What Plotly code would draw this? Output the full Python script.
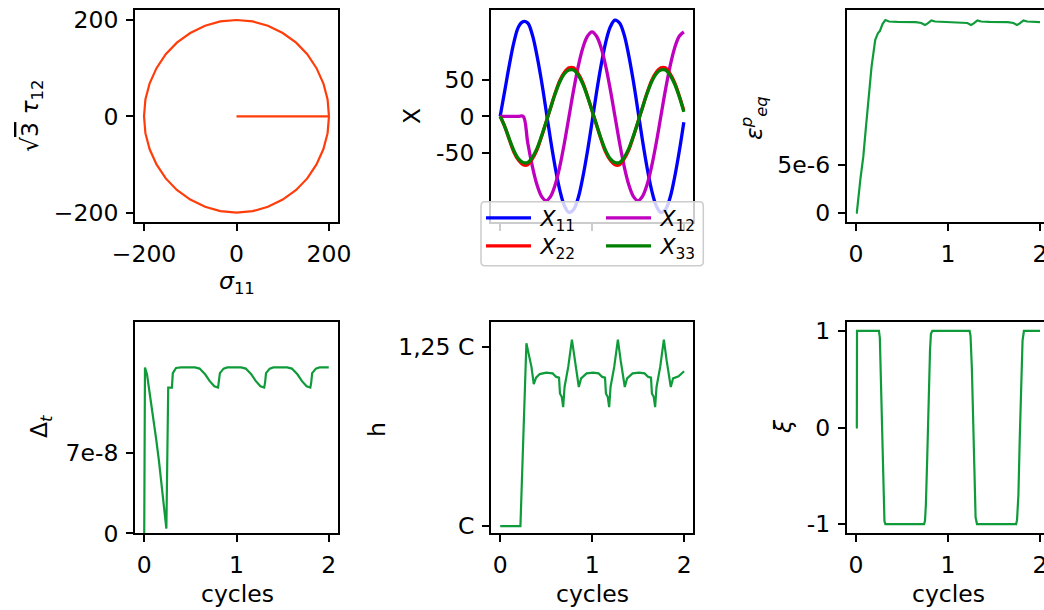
import plotly.graph_objects as go

W, H = 1044, 610

# ---------------- Panel 1: stress path ----------------
circle_sigma11 = [200, 197, 188, 173, 153, 129, 100, 68, 35, 0, -35, -68, -100, -129, -153, -173, -188, -197,
                  -200, -197, -188, -173, -153, -129, -100, -68, -35, 0, 35, 68, 100, 129, 153, 173, 188, 197, 200]
circle_tau12 = [0, 35, 68, 100, 129, 153, 173, 188, 197, 200, 197, 188, 173, 153, 129, 100, 68, 35,
                0, -35, -68, -100, -129, -153, -173, -188, -197, -200, -197, -188, -173, -153, -129, -100, -68, -35, 0]
load_sigma11 = [0, 200]
load_tau12 = [0, 0]

# ---------------- Panel 2: back stress components ----------------
t_back = [0.00, 0.05, 0.10, 0.15, 0.20, 0.25, 0.30, 0.35, 0.40, 0.45, 0.50, 0.55, 0.60, 0.65, 0.70, 0.75, 0.80,
          0.85, 0.90, 0.95, 1.00, 1.05, 1.10, 1.15, 1.20, 1.25, 1.30, 1.35, 1.40, 1.45, 1.50, 1.55, 1.60, 1.65,
          1.70, 1.75, 1.80, 1.85, 1.90, 1.95, 2.00]
X11 = [0, 35, 70, 101, 122, 129, 127, 111, 83, 48, 8, -33, -70, -101, -122, -131, -127, -111, -83, -48, -8,
       33, 70, 101, 122, 131, 127, 111, 83, 48, 8, -33, -70, -101, -122, -131, -127, -111, -83, -48, -8]
X12 = [0, 0, 0, 0, 0, 0, -36, -68, -93, -109, -115, -109, -93, -68, -36, 0, 36, 68, 93, 109, 115,
       109, 93, 68, 36, 0, -36, -68, -93, -109, -115, -109, -93, -68, -36, 0, 36, 68, 93, 109, 115]
X22 = [0, -14, -32, -49, -60, -66, -66, -58, -46, -28, -8, 12, 32, 49, 60, 66, 66, 58, 46, 28, 8,
       -12, -32, -49, -60, -66, -66, -58, -46, -28, -8, 12, 32, 49, 60, 66, 66, 58, 46, 28, 8]
X33 = [0, -14, -31, -47, -58, -63, -63, -56, -44, -27, -8, 12, 31, 47, 58, 63, 63, 56, 44, 27, 8,
       -12, -31, -47, -58, -63, -63, -56, -44, -27, -8, 12, 31, 47, 58, 63, 63, 56, 44, 27, 6]
back_names = ["\u2009<i>X</i><sub>11</sub>", "\u2009<i>X</i><sub>12</sub>",
              "\u2009<i>X</i><sub>22</sub>", "\u2009<i>X</i><sub>33</sub>"]
back_colors = ["#0000ff", "#bf00bf", "#ff0000", "#008000"]
back_legend_row = ["legend", "legend", "legend2", "legend2"]

# ---------------- Panel 3: equivalent plastic strain ----------------
t_eps = [0.00, 0.01, 0.05, 0.08, 0.11, 0.134, 0.17, 0.21, 0.24, 0.26, 0.27, 0.29, 0.32, 0.36, 0.45, 0.55,
         0.65, 0.71, 0.75, 0.78, 0.82, 0.86, 0.95, 1.05, 1.15, 1.21, 1.25, 1.28, 1.32, 1.36, 1.45, 1.55,
         1.65, 1.71, 1.75, 1.78, 1.82, 1.86, 1.95, 2.00]
eps_eq = [0.0, 0.0, 3.6e-6, 5.8e-6, 9.0e-6, 11.7e-6, 15.2e-6, 18.0e-6, 18.7e-6, 18.9e-6, 19.1e-6, 19.66e-6,
          20.05e-6, 19.9e-6, 19.86e-6, 19.86e-6, 19.83e-6, 19.75e-6, 19.55e-6, 19.7e-6, 20.02e-6, 19.9e-6,
          19.86e-6, 19.86e-6, 19.83e-6, 19.75e-6, 19.55e-6, 19.7e-6, 20.02e-6, 19.9e-6, 19.86e-6, 19.86e-6,
          19.83e-6, 19.75e-6, 19.55e-6, 19.7e-6, 20.02e-6, 19.9e-6, 19.86e-6, 19.83e-6]

# ---------------- Panel 4: time step ----------------
t_dt = [0.00, 0.008, 0.03, 0.06, 0.10, 0.13, 0.16, 0.20, 0.24, 0.26, 0.30, 0.31, 0.345, 0.40, 0.55, 0.60,
        0.66, 0.71, 0.76, 0.80, 0.81, 0.82, 0.86, 0.90, 1.05, 1.10, 1.16, 1.21, 1.26, 1.30, 1.31, 1.32, 1.36,
        1.40, 1.55, 1.60, 1.66, 1.71, 1.76, 1.80, 1.81, 1.82, 1.86, 1.90, 2.00]
delta_t = [0.0, 14.5e-8, 13.9e-8, 12.3e-8, 10.0e-8, 8.2e-8, 6.3e-8, 3.6e-8, 0.4e-8, 12.74e-8, 12.74e-8, 14.0e-8,
           14.45e-8, 14.5e-8, 14.5e-8, 14.4e-8, 13.9e-8, 13.3e-8, 12.85e-8, 12.74e-8, 13.2e-8, 14.0e-8, 14.4e-8,
           14.5e-8, 14.5e-8, 14.4e-8, 13.9e-8, 13.3e-8, 12.85e-8, 12.74e-8, 13.2e-8, 14.0e-8, 14.4e-8, 14.5e-8,
           14.5e-8, 14.4e-8, 13.9e-8, 13.3e-8, 12.85e-8, 12.74e-8, 13.2e-8, 14.0e-8, 14.4e-8, 14.5e-8, 14.5e-8]

# ---------------- Panel 5: hardening modulus h (in units of C) ----------------
t_h = [0.00, 0.22, 0.285, 0.34, 0.365, 0.39, 0.43, 0.50, 0.57, 0.61, 0.64, 0.65, 0.67, 0.685, 0.70, 0.74,
       0.78, 0.81, 0.855, 0.88, 0.94, 1.01, 1.07, 1.11, 1.14, 1.15, 1.17, 1.185, 1.20, 1.24, 1.28, 1.31, 1.355,
       1.38, 1.44, 1.51, 1.57, 1.61, 1.64, 1.65, 1.67, 1.685, 1.70, 1.74, 1.78, 1.81, 1.855, 1.88, 1.94, 2.00]
h_val = [1.0, 1.0, 1.255, 1.222, 1.198, 1.207, 1.212, 1.214, 1.213, 1.208, 1.207, 1.185, 1.18, 1.166, 1.194,
         1.222, 1.26, 1.231, 1.194, 1.206, 1.213, 1.214, 1.213, 1.208, 1.207, 1.185, 1.18, 1.166, 1.194, 1.222,
         1.26, 1.231, 1.194, 1.206, 1.213, 1.214, 1.213, 1.208, 1.207, 1.185, 1.18, 1.166, 1.194, 1.222, 1.26,
         1.231, 1.194, 1.206, 1.209, 1.216]
h_tickvals = [1.0, 1.25]
h_ticktext = ["C", "1,25 C"]

# ---------------- Panel 6: xi ----------------
t_xi = [0.00, 0.01, 0.012, 0.25, 0.26, 0.27, 0.285, 0.30, 0.31, 0.32, 0.74, 0.75, 0.76, 0.775, 0.79, 0.805,
        0.815, 0.83, 1.235, 1.245, 1.26, 1.275, 1.29, 1.30, 1.315, 1.74, 1.75, 1.765, 1.78, 1.795, 1.81, 1.825, 2.00]
xi_val = [0, 0, 1, 1, 0.93, 0.5, -0.1, -0.75, -0.97, -1, -1, -0.97, -0.8, -0.3, 0.3, 0.8, 0.97, 1,
          1, 0.95, 0.6, 0.0, -0.6, -0.93, -1, -1, -0.96, -0.7, -0.1, 0.5, 0.9, 1, 1]

cycle_ticks = [0, 1, 2]
cycle_labels = ["0", "1", "2"]

GREEN = "#0f9b3a"
FONT = "DejaVu Sans"
FS = 23.5


def px(x):
    return x / W


def py(y):
    return 1 - y / H


fig = go.Figure()

# panel 1
fig.add_trace(go.Scatter(x=load_sigma11, y=load_tau12, mode="lines", line=dict(color="#ff3d0a", width=2.2),
                         showlegend=False, xaxis="x", yaxis="y"))
fig.add_trace(go.Scatter(x=circle_sigma11, y=circle_tau12, mode="lines", line=dict(color="#ff3d0a", width=2.2),
                         showlegend=False, xaxis="x", yaxis="y"))

# panel 2
for vals, name, col, lg in zip([X11, X12, X22, X33], back_names, back_colors, back_legend_row):
    fig.add_trace(go.Scatter(x=t_back, y=vals, mode="lines", name=name, legend=lg,
                             line=dict(color=col, width=3.3, shape="spline", smoothing=1),
                             xaxis="x2", yaxis="y2"))

# panels 3-6
for xs, ys, ax in [(t_eps, eps_eq, "3"), (t_dt, delta_t, "4"), (t_h, h_val, "5"), (t_xi, xi_val, "6")]:
    fig.add_trace(go.Scatter(x=xs, y=ys, mode="lines", line=dict(color=GREEN, width=2.2),
                             showlegend=False, xaxis="x" + ax, yaxis="y" + ax))

common = dict(showline=True, linecolor="black", linewidth=1.8, ticks="outside", ticklen=7, tickwidth=1.8,
              tickcolor="black", showgrid=False, zeroline=False, tickfont=dict(family=FONT, size=FS, color="black"),
              ticklabelstandoff=3, ticklabeloverflow="allow", automargin=False)

boxes = {
    1: (135, 338, 10, 222),
    2: (491, 693, 10, 222),
    3: (846.7, 1044, 10, 221.7),
    4: (135, 338, 321.7, 533.3),
    5: (491, 693.3, 321.7, 533.3),
    6: (846.7, 1044, 321.7, 533.3),
}

xcfg = {
    1: dict(range=[-219.5, 219.5], tickvals=[-200, 0, 200], ticktext=["\u2212200", "0", "200"]),
    2: dict(range=[-0.1, 2.1], tickvals=cycle_ticks, showticklabels=False),
    3: dict(range=[-0.1, 2.043], tickvals=cycle_ticks, ticktext=cycle_labels),
    4: dict(range=[-0.1, 2.1], tickvals=cycle_ticks, ticktext=cycle_labels),
    5: dict(range=[-0.1, 2.1], tickvals=cycle_ticks, ticktext=cycle_labels),
    6: dict(range=[-0.1, 2.043], tickvals=cycle_ticks, ticktext=cycle_labels),
}
ycfg = {
    1: dict(range=[-219.5, 220.8], tickvals=[-200, 0, 200], ticktext=["\u2212200", "0", "200"]),
    2: dict(range=[-144, 144.8], tickvals=[-50, 0, 50], ticktext=["-50", "0", "50"]),
    3: dict(range=[-0.94e-6, 21.1e-6], tickvals=[0, 5e-6], ticktext=["0", "5e-6"]),
    4: dict(range=[0, 18.5e-8], tickvals=[0, 7e-8], ticktext=["0", "7e-8"]),
    5: dict(range=[0.99, 1.285], tickvals=h_tickvals, ticktext=h_ticktext),
    6: dict(range=[-1.096, 1.096], tickvals=[-1, 0, 1], ticktext=["-1", "0", "1"]),
}

layout = dict(width=W, height=H, margin=dict(l=0, r=0, t=0, b=0, autoexpand=False), paper_bgcolor="white",
              plot_bgcolor="white", font=dict(family=FONT, size=FS, color="black"))
for i in range(1, 7):
    x0, x1, y0, y1 = boxes[i]
    sx = "" if i == 1 else str(i)
    right_col = i in (3, 6)
    layout["xaxis" + sx] = dict(common, domain=[px(x0), px(x1)], anchor="y" + sx, mirror=True, **xcfg[i])
    layout["yaxis" + sx] = dict(common, domain=[py(y1), py(y0)], anchor="x" + sx,
                                mirror=(not right_col), **ycfg[i])
fig.update_layout(**layout)

leg_common = dict(xanchor="left", yanchor="middle", orientation="h", entrywidth=60,
                  bgcolor="rgba(0,0,0,0)", borderwidth=0, font=dict(family=FONT, size=22, color="black"),
                  itemwidth=45, tracegroupgap=0)
fig.update_layout(legend=dict(leg_common, x=px(481), y=py(218)),
                  legend2=dict(leg_common, x=px(481), y=py(246)))

# legend frame (semi-transparent, rounded corners)
lx0, lx1, ly0, ly1, r = 481, 703.3, 201.7, 265.7, 4
frame = (f"M {px(lx0 + r)} {py(ly0)} L {px(lx1 - r)} {py(ly0)} Q {px(lx1)} {py(ly0)} {px(lx1)} {py(ly0 + r)} "
         f"L {px(lx1)} {py(ly1 - r)} Q {px(lx1)} {py(ly1)} {px(lx1 - r)} {py(ly1)} "
         f"L {px(lx0 + r)} {py(ly1)} Q {px(lx0)} {py(ly1)} {px(lx0)} {py(ly1 - r)} "
         f"L {px(lx0)} {py(ly0 + r)} Q {px(lx0)} {py(ly0)} {px(lx0 + r)} {py(ly0)} Z")
fig.add_shape(type="path", path=frame, xref="paper", yref="paper", layer="above",
              fillcolor="rgba(255,255,255,0.8)", line=dict(color="#cccccc", width=1.5))

labels = [
    ("\u221a<span style='text-decoration:overline'>3</span> <i>\u03c4</i><sub>12</sub>", 32, 116, -90),
    ("<i>\u03c3</i><sub>11</sub>", 237, 282, 0),
    ("X", 412, 116, -90),
    ("<i>\u03b5</i><sup><i>p</i></sup><sub><i>eq</i></sub>", 754, 118, -90),
    ("\u0394<sub><i>t</i></sub>", 40, 427, -90),
    ("cycles", 237, 594, 0),
    ("h", 377, 430, -90),
    ("cycles", 592, 594, 0),
    ("<i>\u03be</i>", 783, 427, -90),
    ("cycles", 948, 594, 0),
]
for text, x, y, ang in labels:
    fig.add_annotation(text=text, x=px(x), y=py(y), xref="paper", yref="paper", showarrow=False,
                       textangle=ang, xanchor="center", yanchor="middle",
                       font=dict(family=FONT, size=FS, color="black"))

fig.write_html("out.html", config={"displayModeBar": False},
               post_script="document.body.style.margin='0px';")
